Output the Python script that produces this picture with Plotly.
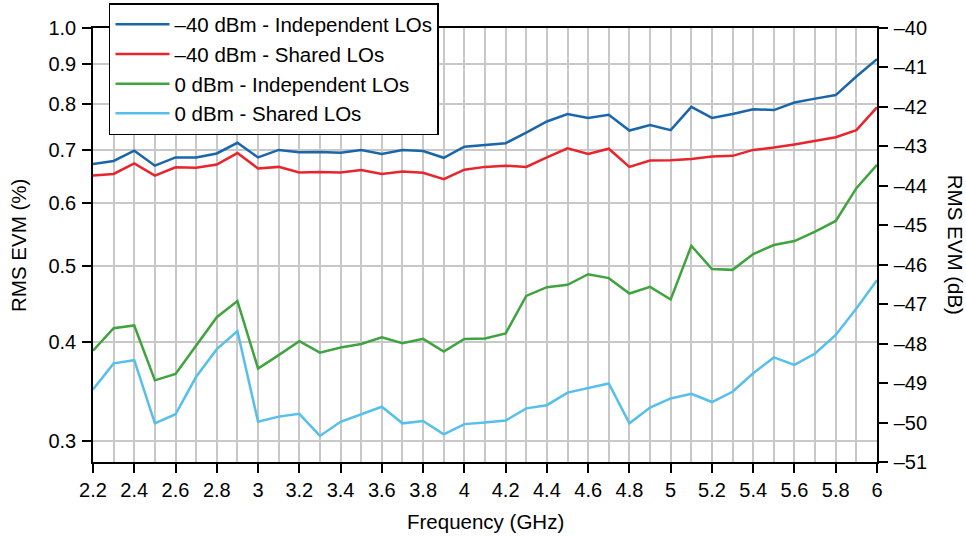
import math
import plotly.graph_objects as go

freq = [round(2.2 + 0.1 * i, 1) for i in range(39)]

# RMS EVM in dB
evm_m40_indep = [-43.45, -43.37, -43.11, -43.49, -43.28, -43.28, -43.18, -42.91, -43.28, -43.09,
                 -43.15, -43.14, -43.16, -43.09, -43.19, -43.09, -43.12, -43.29, -43.01, -42.97,
                 -42.92, -42.65, -42.37, -42.18, -42.28, -42.20, -42.60, -42.46, -42.59, -42.00,
                 -42.28, -42.18, -42.06, -42.08, -41.89, -41.79, -41.70, -41.23, -40.79]
evm_m40_shared = [-43.74, -43.70, -43.43, -43.74, -43.53, -43.54, -43.46, -43.17, -43.56, -43.52,
                  -43.66, -43.65, -43.66, -43.60, -43.70, -43.64, -43.67, -43.83, -43.59, -43.52,
                  -43.49, -43.52, -43.28, -43.05, -43.19, -43.06, -43.52, -43.36, -43.35, -43.32,
                  -43.26, -43.24, -43.09, -43.03, -42.95, -42.86, -42.77, -42.59, -42.01]
evm_0_indep = [-48.18, -47.61, -47.54, -48.93, -48.77, -48.04, -47.33, -46.92, -48.63, -48.29,
               -47.94, -48.23, -48.10, -48.01, -47.84, -47.99, -47.88, -48.20, -47.88, -47.87,
               -47.74, -46.79, -46.57, -46.51, -46.24, -46.34, -46.73, -46.56, -46.88, -45.52,
               -46.11, -46.13, -45.73, -45.50, -45.40, -45.16, -44.89, -44.06, -43.47]
evm_0_shared = [-49.16, -48.50, -48.42, -50.02, -49.79, -48.84, -48.14, -47.68, -49.98, -49.85,
                -49.78, -50.34, -49.98, -49.79, -49.60, -50.02, -49.96, -50.30, -50.04, -50.00,
                -49.95, -49.64, -49.56, -49.24, -49.12, -49.01, -50.02, -49.62, -49.39, -49.27,
                -49.48, -49.22, -48.75, -48.35, -48.54, -48.25, -47.78, -47.11, -46.39]

series_names = ["\u201340 dBm - Independent LOs", "\u201340 dBm - Shared LOs",
                "0 dBm - Independent LOs", "0 dBm - Shared LOs"]
series_colors = ["#1a66aa", "#e8242c", "#3fa33f", "#56bfeb"]

x_tickvals = [2.2, 2.4, 2.6, 2.8, 3.0, 3.2, 3.4, 3.6, 3.8, 4.0, 4.2, 4.4, 4.6, 4.8, 5.0,
              5.2, 5.4, 5.6, 5.8, 6.0]
x_ticktext = ["2.2", "2.4", "2.6", "2.8", "3", "3.2", "3.4", "3.6", "3.8", "4", "4.2", "4.4",
              "4.6", "4.8", "5", "5.2", "5.4", "5.6", "5.8", "6"]
pct_tickvals = [0.3, 0.4, 0.5, 0.6, 0.7, 0.8, 0.9, 1.0]
pct_ticktext = ["0.3", "0.4", "0.5", "0.6", "0.7", "0.8", "0.9", "1.0"]
db_tickvals = list(range(-51, -39))
db_ticktext = ["\u2013" + str(-v) for v in db_tickvals]

DB_MIN, DB_MAX = -51, -40
pct_min = 100 * 10 ** (DB_MIN / 20)
pct_max = 100 * 10 ** (DB_MAX / 20)

FONT = "Liberation Sans, Arial, sans-serif"
GRID = "#c8c8c8"

fig = go.Figure()
# invisible anchor trace for the left (%) axis
fig.add_trace(go.Scatter(x=[freq[0]], y=[pct_max], yaxis="y", mode="lines",
                         showlegend=False, hoverinfo="skip", line=dict(width=0)))
for name, vals, col in zip(series_names,
                           [evm_m40_indep, evm_m40_shared, evm_0_indep, evm_0_shared],
                           series_colors):
    fig.add_trace(go.Scatter(x=freq, y=vals, yaxis="y2", mode="lines", name=name,
                             line=dict(color=col, width=2.5)))

tick_common = dict(ticks="outside", ticklen=9, tickwidth=1.5, tickcolor="black",
                   showline=True, linecolor="black", linewidth=1.5,
                   zeroline=False, automargin=False, tickfont=dict(size=20))

fig.update_layout(
    width=966, height=537,
    margin=dict(l=93, r=89, t=28, b=75, autoexpand=False),
    paper_bgcolor="white", plot_bgcolor="white",
    font=dict(family=FONT, size=20, color="black"),
    showlegend=True,
    legend=dict(x=0.0204, y=1.0576, xanchor="left", yanchor="top",
                bgcolor="white", bordercolor="black", borderwidth=1.5,
                font=dict(size=20.5), tracegroupgap=0, itemwidth=54),
    xaxis=dict(range=[2.2, 6.0], tickmode="array", tickvals=x_tickvals, ticktext=x_ticktext,
               showgrid=True, gridcolor=GRID, gridwidth=1.5, mirror=True,
               minor=dict(tickmode="linear", tick0=2.3, dtick=0.2, showgrid=True,
                          gridcolor=GRID, gridwidth=1.5, ticks=""),
               **tick_common),
    yaxis=dict(type="log", range=[math.log10(pct_min), math.log10(pct_max)],
               tickmode="array", tickvals=pct_tickvals, ticktext=pct_ticktext,
               showgrid=True, gridcolor=GRID, gridwidth=1.5, ticklabelstandoff=2,
               **tick_common),
    yaxis2=dict(overlaying="y", side="right", range=[DB_MIN, DB_MAX],
                tickmode="array", tickvals=db_tickvals, ticktext=db_ticktext,
                showgrid=False, ticklabelstandoff=2, **tick_common),
    annotations=[
        dict(text="RMS EVM (%)", textangle=-90, xref="paper", yref="paper",
             x=-0.0957, y=0.5, xanchor="center", yanchor="middle",
             showarrow=False, font=dict(size=20.5)),
        dict(text="RMS EVM (dB)", textangle=90, xref="paper", yref="paper",
             x=1.101, y=0.5, xanchor="center", yanchor="middle",
             showarrow=False, font=dict(size=20.5)),
        dict(text="Frequency (GHz)", xref="paper", yref="paper",
             x=0.5, y=-0.138, xanchor="center", yanchor="middle",
             showarrow=False, font=dict(size=20.5)),
    ],
)

fig.write_html("out.html", config={"displayModeBar": False},
               post_script="document.body.style.margin='0';")
